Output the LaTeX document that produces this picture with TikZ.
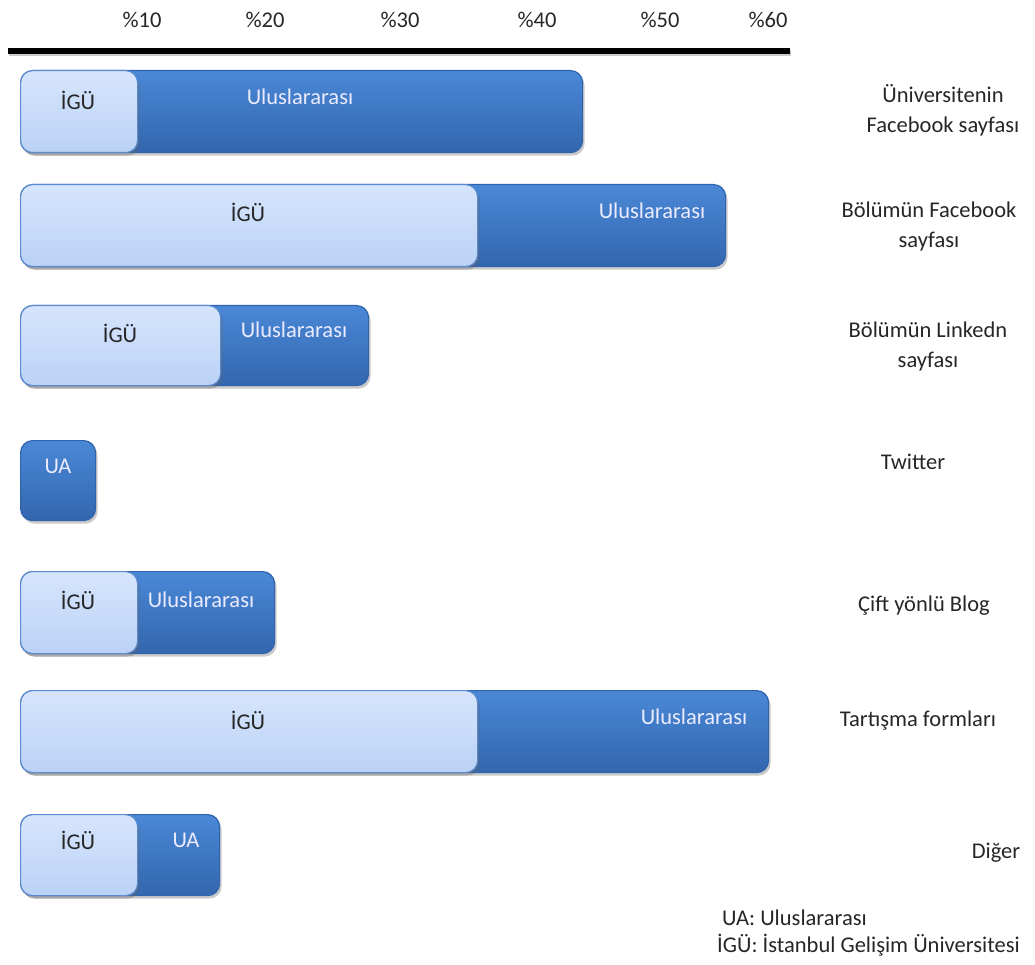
\documentclass[tikz,border=0pt]{standalone}
\usepackage{fontspec}
\setmainfont{Carlito}
\usetikzlibrary{shadows}
\definecolor{darkA}{HTML}{4A88D6}
\definecolor{darkB}{HTML}{3366AE}
\definecolor{darkE}{HTML}{2F63AD}
\definecolor{lightA}{HTML}{D6E5FC}
\definecolor{lightB}{HTML}{BBD2F6}
\definecolor{lightE}{HTML}{5A8BD0}
\definecolor{txt}{HTML}{262626}
\begin{document}
\begin{tikzpicture}[x=1pt,y=-1pt,
  every node/.style={font=\fontsize{22.5}{30}\selectfont, text=txt, inner sep=0pt},
  barbase/.style={rounded corners=12pt, anchor=north west, minimum height=82pt, line width=1.2pt,
    drop shadow={shadow xshift=2pt, shadow yshift=-3pt, opacity=0.35, fill=black!60}},
  darkbar/.style={barbase, draw=darkE, top color=darkA, bottom color=darkB},
  lightbar/.style={barbase, draw=lightE, top color=lightA, bottom color=lightB},
  intxt/.style={text=white!92!blue},
  lbl/.style={align=center},
  tick/.style={text=txt}]
\useasboundingbox (0,0) rectangle (1035,965);
% axis
\coordinate (axL) at (8,51);
\coordinate (axR) at (790,51);
\draw[line width=6pt, black!40, opacity=0.5] ([xshift=1pt,yshift=-2pt]axL) -- ([xshift=1pt,yshift=-2pt]axR);
\draw[line width=6pt, black] (axL) -- (axR);
\node[tick] (t10) at (142,20) {\%10};
\node[tick] (t20) at (265,20) {\%20};
\node[tick] (t30) at (400,20) {\%30};
\node[tick] (t40) at (537,20) {\%40};
\node[tick] (t50) at (660,20) {\%50};
\node[tick] (t60) at (768,20) {\%60};
% bar 1
\node[darkbar, minimum width=562pt] (d1) at (20,70) {};
\node[lightbar, minimum width=117pt] (l1) at (20,70) {};
\node (g1) at (78,100) {İGÜ};
\node[intxt] (u1) at (300,97) {Uluslararası};
% bar 2
\node[darkbar, minimum width=705pt] (d2) at (20,184) {};
\node[lightbar, minimum width=457pt] (l2) at (20,184) {};
\node (g2) at (248,212) {İGÜ};
\node[intxt] (u2) at (652,211) {Uluslararası};
% bar 3
\node[darkbar, minimum width=348pt, minimum height=80pt] (d3) at (20,305) {};
\node[lightbar, minimum width=200pt, minimum height=80pt] (l3) at (20,305) {};
\node (g3) at (120,333) {İGÜ};
\node[intxt] (u3) at (294,330) {Uluslararası};
% bar 4
\node[darkbar, minimum width=75pt, minimum height=80pt] (d4) at (20,440) {};
\node[intxt] (u4) at (58,466) {UA};
% bar 5
\node[darkbar, minimum width=254pt] (d5) at (20,571) {};
\node[lightbar, minimum width=117pt] (l5) at (20,571) {};
\node (g5) at (78,600) {İGÜ};
\node[intxt] (u5) at (201,600) {Uluslararası};
% bar 6
\node[darkbar, minimum width=748pt] (d6) at (20,690) {};
\node[lightbar, minimum width=457pt] (l6) at (20,690) {};
\node (g6) at (248,720) {İGÜ};
\node[intxt] (u6) at (694,717) {Uluslararası};
% bar 7
\node[darkbar, minimum width=199pt, minimum height=81pt] (d7) at (20,814) {};
\node[lightbar, minimum width=117pt, minimum height=81pt] (l7) at (20,814) {};
\node (g7) at (78,840) {İGÜ};
\node[intxt] (u7) at (186,840) {UA};
% category labels
\node[lbl] (c1) at (943,110) {Üniversitenin\\Facebook sayfası};
\node[lbl] (c2) at (929,227) {Bölümün Facebook\\sayfası};
\node[lbl] (c3) at (928,347) {Bölümün Linkedn\\sayfası};
\node (c4) at (913,462) {Twitter};
\node (c5) at (924,606) {Çift yönlü Blog};
\node (c6) at (918,721) {Tartışma formları};
\node (c7) at (996,853) {Diğer};
% legend
\node[anchor=west] (k1) at (722,918) {UA: Uluslararası};
\node[anchor=west] (k2) at (717,945) {İGÜ: İstanbul Gelişim Üniversitesi};
\end{tikzpicture}
\end{document}
